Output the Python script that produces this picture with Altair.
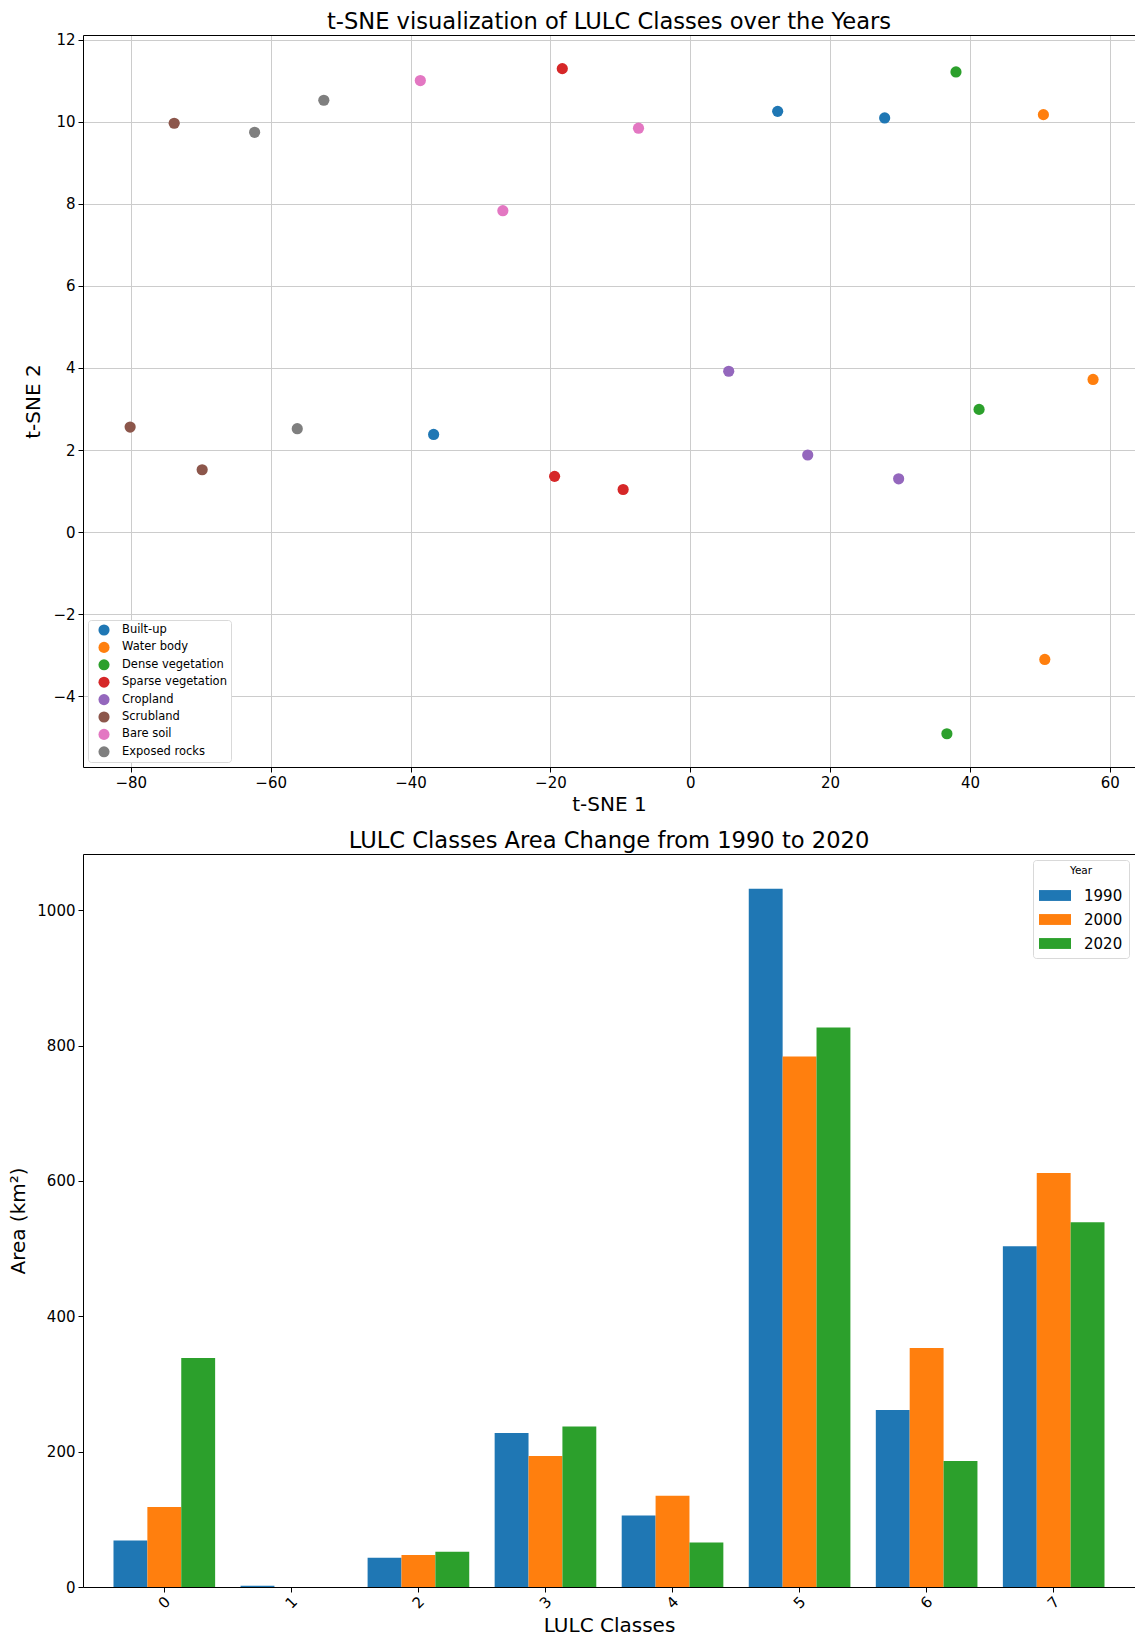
import altair as alt
import pandas as pd

# ---------------- t-SNE scatter data ----------------
classes = ["Built-up", "Water body", "Dense vegetation", "Sparse vegetation",
           "Cropland", "Scrubland", "Bare soil", "Exposed rocks"]
class_colors = ["#1f77b4", "#ff7f0e", "#2ca02c", "#d62728",
                "#9467bd", "#8c564b", "#e377c2", "#7f7f7f"]

point_class = (["Built-up"] * 3 + ["Water body"] * 3 + ["Dense vegetation"] * 3 +
               ["Sparse vegetation"] * 3 + ["Cropland"] * 3 + ["Scrubland"] * 3 +
               ["Bare soil"] * 3 + ["Exposed rocks"] * 3)
tsne_1 = [12.5, 27.8, -36.7,
          50.5, 57.6, 50.7,
          38.0, 41.3, 36.7,
          -18.3, -19.4, -9.6,
          5.5, 16.8, 29.8,
          -73.8, -80.1, -69.8,
          -38.6, -26.8, -7.4,
          -62.3, -52.4, -56.2]
tsne_2 = [10.25, 10.09, 2.38,
          10.17, 3.72, -3.10,
          11.21, 2.99, -4.91,
          11.29, 1.36, 1.04,
          3.92, 1.88, 1.30,
          9.96, 2.56, 1.52,
          11.00, 7.83, 9.84,
          9.74, 10.52, 2.52]

tsne_x_ticks = [-80, -60, -40, -20, 0, 20, 40, 60]
tsne_y_ticks = [-4, -2, 0, 2, 4, 6, 8, 10, 12]

# ---------------- Area bar data ----------------
lulc_classes = ["0", "1", "2", "3", "4", "5", "6", "7"]
years = ["1990", "2000", "2020"]
year_colors = ["#1f77b4", "#ff7f0e", "#2ca02c"]
area_1990 = [68.6, 2.0, 43.4, 227.6, 105.5, 1031.5, 261.6, 503.5]
area_2000 = [118.2, 0.0, 47.3, 193.6, 135.0, 783.8, 353.2, 611.8]
area_2020 = [338.4, 0.0, 52.2, 237.0, 65.6, 826.7, 186.2, 539.0]
area_ticks = [0, 200, 400, 600, 800, 1000]

FONT = "DejaVu Sans"
W = 1052
H1 = 732
H2 = 733

pts = pd.DataFrame({"lulc": point_class, "t1": tsne_1, "t2": tsne_2})

xs = alt.Scale(domain=[-86.84, 63.6], nice=False, zero=False)
ys = alt.Scale(domain=[-5.72, 12.11], nice=False, zero=False)

points = alt.Chart(pts).mark_circle(size=125, opacity=1).encode(
    x=alt.X("t1:Q", scale=xs,
            axis=alt.Axis(title="t-SNE 1", values=tsne_x_ticks, format="d",
                          grid=True, gridColor="#cccccc", gridWidth=1,
                          tickSize=5, labelPadding=3, titlePadding=4)),
    y=alt.Y("t2:Q", scale=ys,
            axis=alt.Axis(title="t-SNE 2", values=tsne_y_ticks, format="d",
                          grid=True, gridColor="#cccccc", gridWidth=1,
                          tickSize=5, labelPadding=3, titlePadding=9)),
    color=alt.Color("lulc:N", scale=alt.Scale(domain=classes, range=class_colors),
                    legend=alt.Legend(title=None, orient="bottom-left", offset=5,
                                      padding=4, symbolOffset=6, symbolType="circle",
                                      symbolSize=123, symbolStrokeWidth=0,
                                      labelFontSize=11.5, labelOffset=12,
                                      rowPadding=5.4, fillColor="white",
                                      strokeColor="#d9d9d9", cornerRadius=3)),
)

tsne_top = alt.Chart(pts).mark_point(opacity=0).encode(
    x=alt.X("t1:Q", scale=xs,
            axis=alt.Axis(orient="top", labels=False, ticks=False, grid=False,
                          title=None, domainColor="black")),
)

tsne_chart = alt.layer(points, tsne_top).resolve_axis(x="independent").properties(
    width=W, height=H1,
    title=alt.Title("t-SNE visualization of LULC Classes over the Years", dy=2),
)

rows = []
for i, c in enumerate(lulc_classes):
    rows.append({"cls": c, "Year": "1990", "area": area_1990[i]})
    rows.append({"cls": c, "Year": "2000", "area": area_2000[i]})
    rows.append({"cls": c, "Year": "2020", "area": area_2020[i]})
bars_df = pd.DataFrame(rows)

bx = alt.Scale(domain=lulc_classes, paddingInner=0.2, paddingOuter=0.24)

bars = alt.Chart(bars_df).mark_bar().encode(
    x=alt.X("cls:O", scale=bx,
            axis=alt.Axis(title="LULC Classes", labelAngle=-45, labelAlign="center",
                          labelBaseline="middle", labelPadding=10, tickSize=5,
                          grid=False, titlePadding=4)),
    xOffset=alt.XOffset("Year:N", scale=alt.Scale(domain=years, paddingInner=0, paddingOuter=0)),
    y=alt.Y("area:Q", scale=alt.Scale(domain=[0, 1083], nice=False),
            axis=alt.Axis(title="Area (km²)", values=area_ticks, format="d", grid=False,
                          tickSize=5, labelPadding=3, titlePadding=8)),
    color=alt.Color("Year:N", scale=alt.Scale(domain=years, range=year_colors),
                    legend=alt.Legend(title="Year", orient="top-right", offset=6,
                                      padding=6, titleFontSize=10.5,
                                      titleFontWeight="normal", titleAnchor="middle",
                                      titlePadding=3,
                                      symbolType="M-1,-0.34H1V0.34H-1Z",
                                      symbolSize=1024, symbolStrokeWidth=0,
                                      labelFontSize=15, labelOffset=13, rowPadding=0,
                                      fillColor="white", strokeColor="#d9d9d9",
                                      cornerRadius=3)),
)

bars_top = alt.Chart(bars_df).mark_point(opacity=0).encode(
    x=alt.X("cls:O", scale=bx,
            axis=alt.Axis(orient="top", labels=False, ticks=False, grid=False,
                          title=None, domainColor="black")),
)

bar_chart = alt.layer(bars, bars_top).resolve_axis(x="independent").properties(
    width=W, height=H2,
    title=alt.Title("LULC Classes Area Change from 1990 to 2020"),
)

chart = alt.vconcat(tsne_chart, bar_chart, spacing=16).resolve_scale(
    color="independent"
).resolve_legend(
    color="independent"
).properties(
    padding={"left": 8, "top": 10, "right": 0, "bottom": 0},
    background="white",
).configure(
    font=FONT,
).configure_view(
    strokeOpacity=0,
).configure_title(
    font=FONT, fontSize=22.6, fontWeight="normal", color="black",
    anchor="middle", frame="group", offset=1,
).configure_axis(
    labelFont=FONT, titleFont=FONT, labelFontSize=15, titleFontSize=20,
    titleFontWeight="normal", labelColor="black", titleColor="black",
    tickColor="black", domainColor="black", domainWidth=1, tickWidth=1,
).configure_legend(
    labelFont=FONT, titleFont=FONT, labelColor="black", titleColor="black",
)

chart.save("out.html", embed_options={"renderer": "svg", "actions": False})
